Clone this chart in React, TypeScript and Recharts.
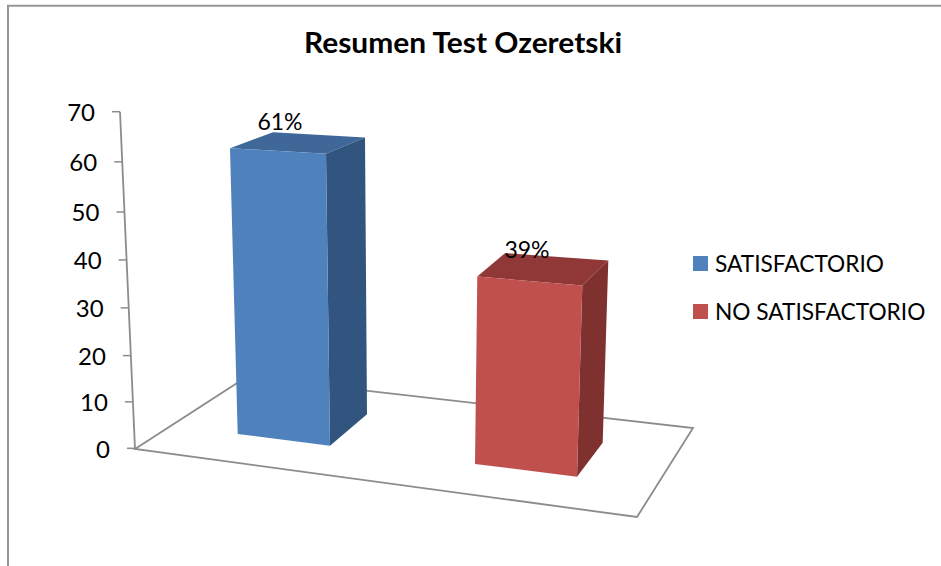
import React from 'react';
import { BarChart, Bar, XAxis, YAxis, Customized, LabelList, Legend } from 'recharts';

const categories = ['Resumen'];
const seriesNames = ['SATISFACTORIO', 'NO SATISFACTORIO'];
const satisfactorio = [61];
const noSatisfactorio = [39];
const percentLabels = ['61%', '39%'];
const yTicks = [0, 10, 20, 30, 40, 50, 60, 70];

const rows = categories.map((c, i) => ({
  category: c,
  [seriesNames[0]]: satisfactorio[i],
  [seriesNames[1]]: noSatisfactorio[i],
}));

const FONT = 'Lato, Carlito, sans-serif';
const GREY = '#8c8c8c';

// Oblique-view offsets of each box relative to the flat rectangle the bar scale gives.
const blueBox = {
  front: '#4F81BD', side: '#325580', top: '#3F6797',
  ftl: [-4, -7.2], ftr: [-4, -1.5], fbr: [0, -3.3], fbl: [3.7, -15],
  btl: [39, -23.2], btr: [35, -17.8], bbr: [37, -34.7],
  label: [-2, -33],
};
const redBox = {
  front: '#C0504D', side: '#7F3130', top: '#8F3837',
  ftl: [1.3, 15.3], ftr: [10.3, 24.3], fbr: [5, 27.7], fbl: [-1, 15],
  btl: [29, -8.1], btr: [36.3, -0.7], bbr: [30.7, -6.3],
  label: [3, -11],
};

// Axis is foreshortened: offset of each tick from the flat linear scale.
const tickShift = { 0: -0.7, 10: 1, 20: 2.9, 30: 3.3, 40: 3.5, 50: 3.7, 60: 1.7, 70: -0.3 };
const slantX = (y: number) => 135 - ((449 - y) * 15) / 337;

const Box3D = (props: any) => {
  const { x, y, width, height, box } = props;
  const r = x + width;
  const b = y + height;
  const pt = (base: number[], off: number[]) => `${base[0] + off[0]},${base[1] + off[1]}`;
  const ftl = pt([x, y], box.ftl);
  const ftr = pt([r, y], box.ftr);
  const fbr = pt([r, b], box.fbr);
  const fbl = pt([x, b], box.fbl);
  const btl = pt([x, y], box.btl);
  const btr = pt([r, y], box.btr);
  const bbr = pt([r, b], box.bbr);
  return (
    <g>
      <polygon points={`${ftl} ${btl} ${btr} ${ftr}`} fill={box.top} />
      <polygon points={`${ftr} ${btr} ${bbr} ${fbr}`} fill={box.side} />
      <polygon points={`${ftl} ${ftr} ${fbr} ${fbl}`} fill={box.front} />
    </g>
  );
};

const AxisTick = (props: any) => {
  const { y, payload } = props;
  const ty = y + (tickShift as any)[payload.value];
  const ax = slantX(ty);
  return (
    <g>
      <line x1={ax - 8} y1={ty} x2={ax} y2={ty} stroke={GREY} strokeWidth={1.5} />
      <text x={ax - 25} y={ty + 9.5} textAnchor="end" fontFamily={FONT} fontSize={24} fill="#000">
        {payload.value}
      </text>
    </g>
  );
};

const Backdrop = () => (
  <g>
    <polyline points="8,566 8,5.8 941,5.8" fill="none" stroke="#969696" strokeWidth={2} />
    <text
      x={463}
      y={53}
      textAnchor="middle"
      fontFamily={FONT}
      fontWeight={700}
      fontSize={28}
      textLength={318}
      lengthAdjust="spacingAndGlyphs"
      fill="#000"
    >
      Resumen Test Ozeretski
    </text>
    <polygon points="135,449 246.5,377 693,428 637,517" fill="none" stroke={GREY} strokeWidth={1.8} />
    <line x1={120} y1={111.7} x2={135} y2={449} stroke={GREY} strokeWidth={1.8} />
  </g>
);

const LegendBox = ({ payload }: any) => (
  <div style={{ fontFamily: FONT, fontSize: 22.7, color: '#000' }}>
    {(payload || []).map((e: any) => (
      <div key={e.value} style={{ display: 'flex', alignItems: 'center', height: 48 }}>
        <span style={{ width: 15, height: 15, background: e.color, marginRight: 7, display: 'inline-block' }} />
        <span style={{ whiteSpace: 'nowrap' }}>{e.value}</span>
      </div>
    ))}
  </div>
);

const makeLabel = (box: any) => (p: any) => (
  <text
    x={p.x + p.width / 2 + box.label[0]}
    y={p.y + box.label[1] + 8}
    textAnchor="middle"
    fontFamily={FONT}
    fontSize={23}
    fill="#000"
  >
    {percentLabels[box === blueBox ? 0 : 1]}
  </text>
);

export default function App() {
  return (
    <div style={{ position: 'absolute', left: 0, top: 0, width: 941, height: 566, background: '#fff' }}>
      <BarChart
        width={941}
        height={566}
        data={rows}
        margin={{ top: 112, right: 22, bottom: 117, left: 75 }}
        barSize={96}
        barGap={146}
      >
        <Customized component={Backdrop} />
        <XAxis dataKey="category" hide />
        <YAxis
          width={60}
          domain={[0, 70]}
          ticks={yTicks}
          interval={0}
          axisLine={false}
          tickLine={false}
          tick={<AxisTick />}
        />
        <Legend
          layout="vertical"
          align="right"
          verticalAlign="top"
          itemSorter={null}
          content={<LegendBox />}
          wrapperStyle={{ position: 'absolute', left: 693, top: 239, width: 248 }}
        />
        <Bar
          dataKey={seriesNames[0]}
          fill={blueBox.front}
          isAnimationActive={false}
          shape={(p: any) => <Box3D {...p} box={blueBox} />}
        >
          <LabelList dataKey={seriesNames[0]} content={makeLabel(blueBox)} />
        </Bar>
        <Bar
          dataKey={seriesNames[1]}
          fill={redBox.front}
          isAnimationActive={false}
          shape={(p: any) => <Box3D {...p} box={redBox} />}
        >
          <LabelList dataKey={seriesNames[1]} content={makeLabel(redBox)} />
        </Bar>
      </BarChart>
    </div>
  );
}
